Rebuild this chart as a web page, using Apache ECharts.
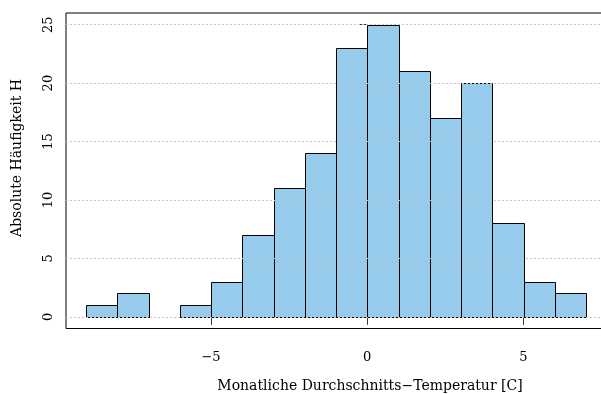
<!DOCTYPE html>
<html>
<head>
<meta charset="utf-8">
<script src="https://cdn.jsdelivr.net/npm/echarts@6/dist/echarts.min.js"></script>
<style>html,body{margin:0;padding:0;background:#fff;}#c{width:601px;height:394px;}</style>
</head>
<body>
<div id="c"></div>
<script>
// Histogram bins (left edges), bin width and counts
var binStarts = [-9, -8, -7, -6, -5, -4, -3, -2, -1, 0, 1, 2, 3, 4, 5, 6];
var binWidth = 1;
var counts = [1, 2, 0, 1, 3, 7, 11, 14, 23, 25, 21, 17, 20, 8, 3, 2];
var xTicks = [-5, 0, 5];
var yTicks = [0, 5, 10, 15, 20, 25];
var xTitle = 'Monatliche Durchschnitts\u2212Temperatur [C]';
var yTitle = 'Absolute H\u00e4ufigkeit H';

var FONT = 'DejaVu Serif';
var binData = binStarts.map(function (s, i) { return [s, s + binWidth, counts[i]]; });

var chart = echarts.init(document.getElementById('c'), null, {renderer: 'canvas'});
chart.setOption({
  animation: false,
  backgroundColor: '#ffffff',
  grid: {left: 66, top: 13, width: 540, height: 315.5, outerBoundsMode: 'none', containLabel: false,
    show: true, borderColor: '#000', borderWidth: 1, backgroundColor: 'transparent'},
  xAxis: {
    type: 'value', min: -9.64, max: 7.64,
    axisLine: {show: false},
    splitLine: {show: false},
    axisTick: {show: true, customValues: xTicks, length: 8, lineStyle: {color: '#333'}},
    axisLabel: {show: true, customValues: xTicks, margin: 23, color: '#000', fontFamily: FONT, fontSize: 13,
      formatter: function (v) { return v < 0 ? '\u2212' + Math.abs(v) : String(v); }}
  },
  yAxis: {
    type: 'value', min: -1, max: 26,
    axisLine: {show: false},
    splitLine: {show: false},
    axisTick: {show: true, customValues: yTicks, length: 8, lineStyle: {color: '#333'}},
    axisLabel: {show: true, customValues: yTicks, rotate: 90, margin: 11, color: '#000', fontFamily: FONT, fontSize: 13}
  },
  series: [{
    type: 'custom',
    data: binData,
    encode: {x: [0, 1], y: 2},
    z: 2,
    renderItem: function (params, api) {
      var h = api.value(2);
      if (h <= 0) return null;
      var p0 = api.coord([api.value(0), 0]);
      var p1 = api.coord([api.value(1), h]);
      return {
        type: 'rect',
        shape: {x: Math.round(p0[0]) + 0.5, y: Math.round(p1[1]) + 0.5, width: Math.round(p1[0]) - Math.round(p0[0]), height: Math.round(p0[1]) - Math.round(p1[1])},
        style: {fill: '#96CBEB', stroke: '#000', lineWidth: 1}
      };
    }
  }, {
    type: 'line',
    data: [],
    z: 5,
    markLine: {
      silent: true, symbol: 'none', animation: false,
      label: {show: false},
      lineStyle: {color: '#c4c4c4', type: [2, 2], width: 1},
      data: yTicks.map(function (v) { return {yAxis: v}; })
    }
  }],
  graphic: [
    {type: 'text', x: 370, y: 386, style: {text: xTitle, fontFamily: FONT, fontSize: 14, fill: '#000', align: 'center', verticalAlign: 'middle'}},
    {type: 'text', x: 17, y: 158, rotation: Math.PI / 2, style: {text: yTitle, fontFamily: FONT, fontSize: 14, fill: '#000', align: 'center', verticalAlign: 'middle'}}
  ]
});
</script>
</body>
</html>
